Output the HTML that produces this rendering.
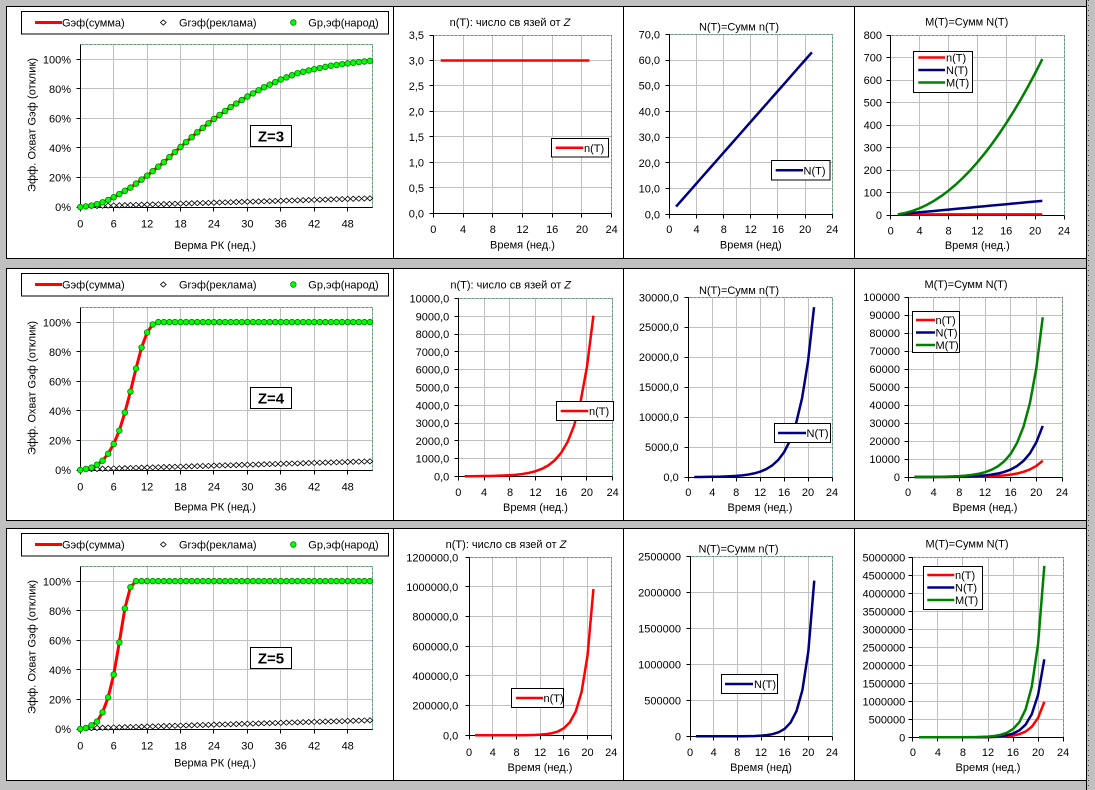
<!DOCTYPE html>
<html><head><meta charset="utf-8"><title>chart</title>
<style>
html,body{margin:0;padding:0;background:#c0c0c0;overflow:hidden}
svg{display:block}
text{font-family:"Liberation Sans",Arial,sans-serif;font-size:11px;fill:#000}
.e{text-anchor:end}.m{text-anchor:middle}
.z{font-weight:bold;font-size:15px}
</style></head><body>
<svg id="s" xmlns="http://www.w3.org/2000/svg" width="1095" height="790" viewBox="0 0 1095 790">
<rect width="1095" height="790" fill="#c0c0c0"/>
<g fill="#fff" stroke="#000" shape-rendering="crispEdges">
<rect x="6.5" y="6.5" width="1080" height="252"/>
<rect x="6.5" y="268.5" width="1080" height="252"/>
<rect x="6.5" y="528.5" width="1080" height="252"/>
</g>
<g stroke="#000" shape-rendering="crispEdges">
<line x1="393.5" y1="6.5" x2="393.5" y2="258.5"/><line x1="623.5" y1="6.5" x2="623.5" y2="258.5"/><line x1="854.5" y1="6.5" x2="854.5" y2="258.5"/>
<line x1="393.5" y1="268.5" x2="393.5" y2="520.5"/><line x1="623.5" y1="268.5" x2="623.5" y2="520.5"/><line x1="854.5" y1="268.5" x2="854.5" y2="520.5"/>
<line x1="393.5" y1="528.5" x2="393.5" y2="780.5"/><line x1="623.5" y1="528.5" x2="623.5" y2="780.5"/><line x1="854.5" y1="528.5" x2="854.5" y2="780.5"/>
<line x1="1086.5" y1="0" x2="1086.5" y2="790"/>
<line x1="1088.5" y1="0" x2="1088.5" y2="790" stroke-dasharray="1 4" stroke="#404040"/>
</g>
<g id="plots"></g>

<!-- Row 1 -->
<rect x="21.5" y="11.5" width="367" height="22.5" fill="#fff" stroke="#000" shape-rendering="crispEdges"/>
<line x1="35" y1="22.5" x2="62" y2="22.5" stroke="#f00" stroke-width="3"/>
<text x="62" y="26.5">Gэф(сумма)</text>
<polygon points="163.3,19.9 166.1,22.5 163.3,25.1 160.5,22.5" fill="#fff" stroke="#000" stroke-width="0.8"/>
<text x="179" y="26.5">Grэф(реклама)</text>
<circle cx="293.3" cy="22.5" r="2.8" fill="#0f0" stroke="#008000" stroke-width="0.8"/>
<text x="308.3" y="26.5">Gр,эф(народ)</text>
<text class="e" x="71" y="211">0%</text><text class="e" x="71" y="181.5">20%</text><text class="e" x="71" y="152">40%</text><text class="e" x="71" y="122.4">60%</text><text class="e" x="71" y="92.8">80%</text><text class="e" x="71" y="63.3">100%</text>
<text class="m" x="80.3" y="227.5">0</text><text class="m" x="113.7" y="227.5">6</text><text class="m" x="147.1" y="227.5">12</text><text class="m" x="180.6" y="227.5">18</text><text class="m" x="214" y="227.5">24</text><text class="m" x="247.4" y="227.5">30</text><text class="m" x="280.8" y="227.5">36</text><text class="m" x="314.2" y="227.5">42</text><text class="m" x="347.7" y="227.5">48</text>
<text class="m" x="215" y="249.2">Верма РК (нед.)</text>
<text class="m" transform="translate(35.5,125) rotate(-90)" textLength="134" lengthAdjust="spacing">Эфф. Охват Gэф (отклик)</text>
<rect x="250.5" y="125.5" width="41" height="21" fill="#fff" stroke="#000" shape-rendering="crispEdges"/>
<text class="m z" x="271" y="141.5">Z=3</text>

<!-- Row 2 -->
<rect x="21.5" y="273.5" width="367" height="22.5" fill="#fff" stroke="#000" shape-rendering="crispEdges"/>
<line x1="35" y1="284.5" x2="62" y2="284.5" stroke="#f00" stroke-width="3"/>
<text x="62" y="288.5">Gэф(сумма)</text>
<polygon points="163.3,281.9 166.1,284.5 163.3,287.1 160.5,284.5" fill="#fff" stroke="#000" stroke-width="0.8"/>
<text x="179" y="288.5">Grэф(реклама)</text>
<circle cx="293.3" cy="284.5" r="2.8" fill="#0f0" stroke="#008000" stroke-width="0.8"/>
<text x="308.3" y="288.5">Gр,эф(народ)</text>
<text class="e" x="71" y="474">0%</text><text class="e" x="71" y="444.5">20%</text><text class="e" x="71" y="415">40%</text><text class="e" x="71" y="385.4">60%</text><text class="e" x="71" y="355.8">80%</text><text class="e" x="71" y="326.3">100%</text>
<text class="m" x="80.3" y="490.5">0</text><text class="m" x="113.7" y="490.5">6</text><text class="m" x="147.1" y="490.5">12</text><text class="m" x="180.6" y="490.5">18</text><text class="m" x="214" y="490.5">24</text><text class="m" x="247.4" y="490.5">30</text><text class="m" x="280.8" y="490.5">36</text><text class="m" x="314.2" y="490.5">42</text><text class="m" x="347.7" y="490.5">48</text>
<text class="m" x="215" y="510.5">Верма РК (нед.)</text>
<text class="m" transform="translate(35.5,388) rotate(-90)" textLength="134" lengthAdjust="spacing">Эфф. Охват Gэф (отклик)</text>
<rect x="250.5" y="387.5" width="41" height="21" fill="#fff" stroke="#000" shape-rendering="crispEdges"/>
<text class="m z" x="271" y="403.5">Z=4</text>

<!-- Row 3 -->
<rect x="21.5" y="533.5" width="367" height="22.5" fill="#fff" stroke="#000" shape-rendering="crispEdges"/>
<line x1="35" y1="544.5" x2="62" y2="544.5" stroke="#f00" stroke-width="3"/>
<text x="62" y="548.5">Gэф(сумма)</text>
<polygon points="163.3,541.9 166.1,544.5 163.3,547.1 160.5,544.5" fill="#fff" stroke="#000" stroke-width="0.8"/>
<text x="179" y="548.5">Grэф(реклама)</text>
<circle cx="293.3" cy="544.5" r="2.8" fill="#0f0" stroke="#008000" stroke-width="0.8"/>
<text x="308.3" y="548.5">Gр,эф(народ)</text>
<text class="e" x="71" y="733">0%</text><text class="e" x="71" y="703.5">20%</text><text class="e" x="71" y="674">40%</text><text class="e" x="71" y="644.4">60%</text><text class="e" x="71" y="614.8">80%</text><text class="e" x="71" y="585.3">100%</text>
<text class="m" x="80.3" y="749.3">0</text><text class="m" x="113.7" y="749.3">6</text><text class="m" x="147.1" y="749.3">12</text><text class="m" x="180.6" y="749.3">18</text><text class="m" x="214" y="749.3">24</text><text class="m" x="247.4" y="749.3">30</text><text class="m" x="280.8" y="749.3">36</text><text class="m" x="314.2" y="749.3">42</text><text class="m" x="347.7" y="749.3">48</text>
<text class="m" x="215" y="766.3">Верма РК (нед.)</text>
<text class="m" transform="translate(35.5,647) rotate(-90)" textLength="134" lengthAdjust="spacing">Эфф. Охват Gэф (отклик)</text>
<rect x="250.5" y="647.5" width="41" height="21" fill="#fff" stroke="#000" shape-rendering="crispEdges"/>
<text class="m z" x="271" y="663.5">Z=5</text>

<!-- Row 1, charts 2-4 -->
<text class="m" x="510" y="26">n(T): число св язей от <tspan font-style="italic">Z</tspan></text>
<text class="e" x="424" y="217.3">0,0</text><text class="e" x="424" y="191.8">0,5</text><text class="e" x="424" y="166.4">1,0</text><text class="e" x="424" y="140.9">1,5</text><text class="e" x="424" y="115.4">2,0</text><text class="e" x="424" y="89.9">2,5</text><text class="e" x="424" y="64.5">3,0</text><text class="e" x="424" y="39">3,5</text>
<text class="m" x="433.3" y="233">0</text><text class="m" x="463" y="233">4</text><text class="m" x="492.8" y="233">8</text><text class="m" x="522.5" y="233">12</text><text class="m" x="552.2" y="233">16</text><text class="m" x="582" y="233">20</text><text class="m" x="611.7" y="233">24</text>
<text class="m" x="522.5" y="248.5">Время (нед.)</text>
<rect x="551.5" y="138.5" width="57" height="18.5" fill="#fff" stroke="#000" shape-rendering="crispEdges"/>
<line x1="555.7" y1="147.7" x2="583.3" y2="147.7" stroke="#f00" stroke-width="2.5"/>
<text x="584" y="151.8">n(T)</text>

<text class="m" x="739" y="30.5">N(T)=Сумм n(T)</text>
<text class="e" x="660" y="218.3">0,0</text><text class="e" x="660" y="192.6">10,0</text><text class="e" x="660" y="166.9">20,0</text><text class="e" x="660" y="141.2">30,0</text><text class="e" x="660" y="115.4">40,0</text><text class="e" x="660" y="89.7">50,0</text><text class="e" x="660" y="64">60,0</text><text class="e" x="660" y="38.3">70,0</text>
<text class="m" x="669.3" y="233">0</text><text class="m" x="696.5" y="233">4</text><text class="m" x="723.8" y="233">8</text><text class="m" x="750.8" y="233">12</text><text class="m" x="778" y="233">16</text><text class="m" x="805.1" y="233">20</text><text class="m" x="832.3" y="233">24</text>
<text class="m" x="750.8" y="248.5">Время (нед)</text>
<rect x="771.5" y="160.5" width="58.5" height="19.5" fill="#fff" stroke="#000" shape-rendering="crispEdges"/>
<line x1="775.7" y1="170.3" x2="803" y2="170.3" stroke="#000080" stroke-width="2.5"/>
<text x="803.5" y="174.5">N(T)</text>

<text class="m" x="966.7" y="25.5">M(T)=Сумм N(T)</text>
<text class="e" x="882" y="219">0</text><text class="e" x="882" y="196.5">100</text><text class="e" x="882" y="174">200</text><text class="e" x="882" y="151.5">300</text><text class="e" x="882" y="129">400</text><text class="e" x="882" y="106.5">500</text><text class="e" x="882" y="84">600</text><text class="e" x="882" y="61.5">700</text><text class="e" x="882" y="39">800</text>
<text class="m" x="890.7" y="234.5">0</text><text class="m" x="919.6" y="234.5">4</text><text class="m" x="948.5" y="234.5">8</text><text class="m" x="977.4" y="234.5">12</text><text class="m" x="1006.2" y="234.5">16</text><text class="m" x="1035.1" y="234.5">20</text><text class="m" x="1064" y="234.5">24</text>
<text class="m" x="977.3" y="248.8">Время (нед.)</text>
<rect x="913.5" y="51.5" width="59" height="41" fill="#fff" stroke="#000" shape-rendering="crispEdges"/>
<line x1="918.3" y1="57.5" x2="945" y2="57.5" stroke="#f00" stroke-width="2.5"/>
<line x1="918.3" y1="70" x2="945" y2="70" stroke="#000080" stroke-width="2.5"/>
<line x1="918.3" y1="82.5" x2="945" y2="82.5" stroke="#008000" stroke-width="2.5"/>
<text x="946" y="61.5">n(T)</text><text x="946" y="74">N(T)</text><text x="946" y="86.5">M(T)</text>

<!-- Row 2, charts 2-4 -->
<text class="m" x="510.7" y="288.5">n(T): число св язей от <tspan font-style="italic">Z</tspan></text>
<text class="e" x="449.3" y="480.3">0,0</text><text class="e" x="449.3" y="462.5">1000,0</text><text class="e" x="449.3" y="444.8">2000,0</text><text class="e" x="449.3" y="427">3000,0</text><text class="e" x="449.3" y="409.3">4000,0</text><text class="e" x="449.3" y="391.5">5000,0</text><text class="e" x="449.3" y="373.7">6000,0</text><text class="e" x="449.3" y="356">7000,0</text><text class="e" x="449.3" y="338.2">8000,0</text><text class="e" x="449.3" y="320.5">9000,0</text><text class="e" x="449.3" y="302.7">10000,0</text>
<text class="m" x="458.3" y="496">0</text><text class="m" x="484" y="496">4</text><text class="m" x="510" y="496">8</text><text class="m" x="535.5" y="496">12</text><text class="m" x="561.2" y="496">16</text><text class="m" x="586.9" y="496">20</text><text class="m" x="612.7" y="496">24</text>
<text class="m" x="535.5" y="510.8">Время (нед.)</text>
<rect x="556.5" y="401.5" width="57" height="19" fill="#fff" stroke="#000" shape-rendering="crispEdges"/>
<line x1="560.7" y1="411" x2="588.3" y2="411" stroke="#f00" stroke-width="2.5"/>
<text x="589" y="415">n(T)</text>

<text class="m" x="739" y="293.8">N(T)=Сумм n(T)</text>
<text class="e" x="678.7" y="481">0,0</text><text class="e" x="678.7" y="451">5000,0</text><text class="e" x="678.7" y="421.1">10000,0</text><text class="e" x="678.7" y="391.1">15000,0</text><text class="e" x="678.7" y="361.2">20000,0</text><text class="e" x="678.7" y="331.2">25000,0</text><text class="e" x="678.7" y="301.3">30000,0</text>
<text class="m" x="688.3" y="496">0</text><text class="m" x="712.3" y="496">4</text><text class="m" x="736.2" y="496">8</text><text class="m" x="760.2" y="496">12</text><text class="m" x="784.1" y="496">16</text><text class="m" x="808" y="496">20</text><text class="m" x="832" y="496">24</text>
<text class="m" x="760" y="510.8">Время (нед.)</text>
<rect x="774.5" y="423.5" width="56" height="19" fill="#fff" stroke="#000" shape-rendering="crispEdges"/>
<line x1="778" y1="433" x2="806" y2="433" stroke="#000080" stroke-width="2.5"/>
<text x="806.5" y="437">N(T)</text>

<text class="m" x="966" y="288">M(T)=Сумм N(T)</text>
<text class="e" x="900" y="481">0</text><text class="e" x="900" y="463">10000</text><text class="e" x="900" y="445">20000</text><text class="e" x="900" y="427">30000</text><text class="e" x="900" y="409">40000</text><text class="e" x="900" y="391">50000</text><text class="e" x="900" y="373">60000</text><text class="e" x="900" y="355">70000</text><text class="e" x="900" y="337">80000</text><text class="e" x="900" y="319">90000</text><text class="e" x="900" y="301">100000</text>
<text class="m" x="908" y="496">0</text><text class="m" x="933.7" y="496">4</text><text class="m" x="959.3" y="496">8</text><text class="m" x="985" y="496">12</text><text class="m" x="1010.7" y="496">16</text><text class="m" x="1036.3" y="496">20</text><text class="m" x="1062" y="496">24</text>
<text class="m" x="985" y="510.8">Время (нед.)</text>
<rect x="912.5" y="311.5" width="47" height="41" fill="#fff" stroke="#000" shape-rendering="crispEdges"/>
<line x1="916" y1="320" x2="935" y2="320" stroke="#f00" stroke-width="2.5"/>
<line x1="916" y1="332.5" x2="935" y2="332.5" stroke="#000080" stroke-width="2.5"/>
<line x1="916" y1="345" x2="935" y2="345" stroke="#008000" stroke-width="2.5"/>
<text x="935.5" y="324">n(T)</text><text x="935.5" y="336.5">N(T)</text><text x="935.5" y="349">M(T)</text>

<!-- Row 3, charts 2-4 -->
<text class="m" x="506" y="548">n(T): число св язей от <tspan font-style="italic">Z</tspan></text>
<text class="e" x="458.3" y="739.3">0,0</text><text class="e" x="458.3" y="709.6">200000,0</text><text class="e" x="458.3" y="680">400000,0</text><text class="e" x="458.3" y="650.3">600000,0</text><text class="e" x="458.3" y="620.6">800000,0</text><text class="e" x="458.3" y="591">1000000,0</text><text class="e" x="458.3" y="561.3">1200000,0</text>
<text class="m" x="469.1" y="756">0</text><text class="m" x="492.8" y="756">4</text><text class="m" x="516.5" y="756">8</text><text class="m" x="540.2" y="756">12</text><text class="m" x="563.8" y="756">16</text><text class="m" x="587.5" y="756">20</text><text class="m" x="611.2" y="756">24</text>
<text class="m" x="540" y="771">Время (нед.)</text>
<rect x="511.5" y="688.5" width="52" height="19" fill="#fff" stroke="#000" shape-rendering="crispEdges"/>
<line x1="516" y1="698" x2="543" y2="698" stroke="#f00" stroke-width="2.5"/>
<text x="543.5" y="702">n(T)</text>

<text class="m" x="738.5" y="552.7">N(T)=Сумм n(T)</text>
<text class="e" x="681" y="740.3">0</text><text class="e" x="681" y="704.4">500000</text><text class="e" x="681" y="668.5">1000000</text><text class="e" x="681" y="632.5">1500000</text><text class="e" x="681" y="596.6">2000000</text><text class="e" x="681" y="560.7">2500000</text>
<text class="m" x="690" y="756">0</text><text class="m" x="713.7" y="756">4</text><text class="m" x="737.3" y="756">8</text><text class="m" x="761" y="756">12</text><text class="m" x="784.7" y="756">16</text><text class="m" x="808.3" y="756">20</text><text class="m" x="832" y="756">24</text>
<text class="m" x="761" y="771">Время (нед)</text>
<rect x="721.5" y="674.5" width="56" height="19" fill="#fff" stroke="#000" shape-rendering="crispEdges"/>
<line x1="725" y1="684" x2="753" y2="684" stroke="#000080" stroke-width="2.5"/>
<text x="754" y="688">N(T)</text>

<text class="m" x="967" y="547.5">M(T)=Сумм N(T)</text>
<text class="e" x="905.3" y="741.3">0</text><text class="e" x="905.3" y="723.3">500000</text><text class="e" x="905.3" y="705.3">1000000</text><text class="e" x="905.3" y="687.3">1500000</text><text class="e" x="905.3" y="669.3">2000000</text><text class="e" x="905.3" y="651.3">2500000</text><text class="e" x="905.3" y="633.3">3000000</text><text class="e" x="905.3" y="615.3">3500000</text><text class="e" x="905.3" y="597.3">4000000</text><text class="e" x="905.3" y="579.3">4500000</text><text class="e" x="905.3" y="561.3">5000000</text>
<text class="m" x="912.9" y="756">0</text><text class="m" x="937.9" y="756">4</text><text class="m" x="962.9" y="756">8</text><text class="m" x="988" y="756">12</text><text class="m" x="1013" y="756">16</text><text class="m" x="1038.1" y="756">20</text><text class="m" x="1063.1" y="756">24</text>
<text class="m" x="988" y="771">Время (нед.)</text>
<rect x="923.5" y="566.5" width="59" height="43" fill="#fff" stroke="#000" shape-rendering="crispEdges"/>
<line x1="927.3" y1="575" x2="954.3" y2="575" stroke="#f00" stroke-width="2.5"/>
<line x1="927.3" y1="587.5" x2="954.3" y2="587.5" stroke="#000080" stroke-width="2.5"/>
<line x1="927.3" y1="600" x2="954.3" y2="600" stroke="#008000" stroke-width="2.5"/>
<text x="955" y="579">n(T)</text><text x="955" y="591.5">N(T)</text><text x="955" y="604">M(T)</text>
</svg>
<script>
(function(){
var NS='http://www.w3.org/2000/svg', G=document.getElementById('plots');
function mk(t,a){var e=document.createElementNS(NS,t);for(var k in a)e.setAttribute(k,a[k]);G.appendChild(e);return e;}
function c(v){return Math.floor(v)+0.5;}
function frame(p){
  var sx=function(v){return p.x0+(p.x1-p.x0)*v/p.xm;}, sy=function(v){return p.yb-(p.yb-p.yt)*v/p.ym;};
  var d='',i,X,Y;
  for(i=1;i*p.xs<p.xm-1e-6;i++){X=c(sx(i*p.xs)); if(X>=c(p.x1))continue; d+='M'+X+' '+c(p.yt)+'V'+c(p.yb);}
  for(i=1;i*p.ys<p.ym-1e-6;i++){Y=c(sy(i*p.ys)); d+='M'+c(p.x0)+' '+Y+'H'+c(p.x1);}
  mk('path',{d:d,stroke:'#c0c0c0','stroke-width':1,fill:'none','shape-rendering':'crispEdges'});
  var db='M'+c(p.x0)+' '+c(p.yt)+'H'+c(p.x1)+'V'+c(p.yb);
  mk('path',{d:db,stroke:'#00a000','stroke-dasharray':'1 3',fill:'none','shape-rendering':'crispEdges'});
  mk('path',{d:db,stroke:'#000080','stroke-dasharray':'1 3','stroke-dashoffset':2,fill:'none','shape-rendering':'crispEdges'});
  var a='M'+c(p.x0)+' '+c(p.yt)+'V'+c(p.yb)+'H'+c(p.x1);
  for(i=0;i*p.ys<=p.ym+1e-6;i++){Y=c(sy(i*p.ys)); a+='M'+(c(p.x0)-4)+' '+Y+'H'+c(p.x0);}
  for(i=0;i*p.xs<=p.xm+1e-6;i++){X=c(sx(i*p.xs)); a+='M'+X+' '+c(p.yb)+'V'+(c(p.yb)+4);}
  mk('path',{d:a,stroke:'#000',fill:'none','shape-rendering':'crispEdges'});
  return {sx:sx,sy:sy};
}
function line(f,xs,ys,col,w){
  var d='';for(var i=0;i<xs.length;i++)d+=(i?'L':'M')+f.sx(xs[i]).toFixed(2)+' '+f.sy(ys[i]).toFixed(2);
  mk('path',{d:d,stroke:col,'stroke-width':w,fill:'none','stroke-linejoin':'round'});
}
function interp(pts,t){for(var i=1;i<pts.length;i++){if(t<=pts[i][0]){var a=pts[i-1],b=pts[i];return a[1]+(b[1]-a[1])*(t-a[0])/(b[0]-a[0]);}}return pts[pts.length-1][1];}
var Z3=[[0,0],[1,.004],[2,.01],[3,.02],[4,.032],[5,.048],[6,.066],[9,.131],[12,.212],[15,.303],[18,.406],[21,.505],[24,.596],[27,.676],[30,.747],[33,.81],[36,.862],[39,.905],[42,.932],[45,.955],[48,.971],[52,.988]];
var Z4=[[0,0],[1,.007],[2,.016],[3,.036],[4,.063],[5,.11],[6,.176],[7,.266],[8,.388],[9,.53],[10,.686],[11,.828],[12,.93],[13,.984],[14,1],[52,1]];
var Z5=[[0,0],[1,.007],[2,.025],[3,.05],[4,.113],[5,.214],[6,.368],[7,.585],[8,.815],[9,.959],[10,1],[52,1]];
var tabs=[Z3,Z4,Z5], dP=[0,263,522];
var r,t,T=[];for(t=0;t<=52;t++)T.push(t);
for(r=0;r<3;r++){
  var f=frame({x0:80.3,x1:372.3,yb:207+dP[r],yt:44.3+dP[r],xm:52.42,ym:1.1,xs:6,ys:0.2});
  var F=T.map(function(t){return interp(tabs[r],t);});
  for(t=0;t<=52;t++){
    var dv=t===0?0:0.004+0.00105*t, X=f.sx(t), Y=f.sy(dv);
    mk('polygon',{points:X+','+(Y-2.6)+' '+(X+2.8)+','+Y+' '+X+','+(Y+2.6)+' '+(X-2.8)+','+Y,fill:'#fff',stroke:'#000','stroke-width':0.8});
  }
  line(f,T,F,'#ff0000',3);
  for(t=0;t<=52;t++){mk('circle',{cx:f.sx(t),cy:f.sy(F[t]),r:2.8,fill:'#00ff00',stroke:'#008000','stroke-width':0.8});}
}
var specs=[
 [{x0:433.3,x1:611.7,yb:213.3,yt:35,ym:3.5,ys:0.5},{x0:669.3,x1:832.3,yb:214.3,yt:34.3,ym:70,ys:10},{x0:890.7,x1:1064,yb:215,yt:35,ym:800,ys:100}],
 [{x0:458.3,x1:612.7,yb:476.3,yt:298.7,ym:10000,ys:1000},{x0:688.3,x1:832,yb:477,yt:297.3,ym:30000,ys:5000},{x0:908,x1:1062,yb:477,yt:297,ym:100000,ys:10000}],
 [{x0:469.1,x1:611.2,yb:735.3,yt:557.3,ym:1200000,ys:200000},{x0:690,x1:832,yb:736.3,yt:556.7,ym:2500000,ys:500000},{x0:912.9,x1:1063.1,yb:737.3,yt:557.3,ym:5000000,ys:500000}]
];
var nf=[function(t){return 3;},function(t){return 9043*Math.pow(1.468,t-21);},function(t){return 986000*Math.pow(1.835,t-21);}];
var TT=[];for(t=1;t<=21;t++)TT.push(t);
for(r=0;r<3;r++){
  var n=TT.map(nf[r]),N=[],M=[],s=0,s2=0;
  for(var i=0;i<n.length;i++){s+=n[i];N.push(s);s2+=s;M.push(s2);}
  var fs=[];
  for(var k=0;k<3;k++){var p=specs[r][k];p.xm=24;p.xs=4;fs.push(frame(p));}
  line(fs[0],TT,n,'#ff0000',2.5);
  line(fs[1],TT,N,'#000080',2.5);
  line(fs[2],TT,n,'#ff0000',2.5);
  line(fs[2],TT,N,'#000080',2.5);
  line(fs[2],TT,M,'#008000',2.5);
}
})();
</script>
</body></html>
